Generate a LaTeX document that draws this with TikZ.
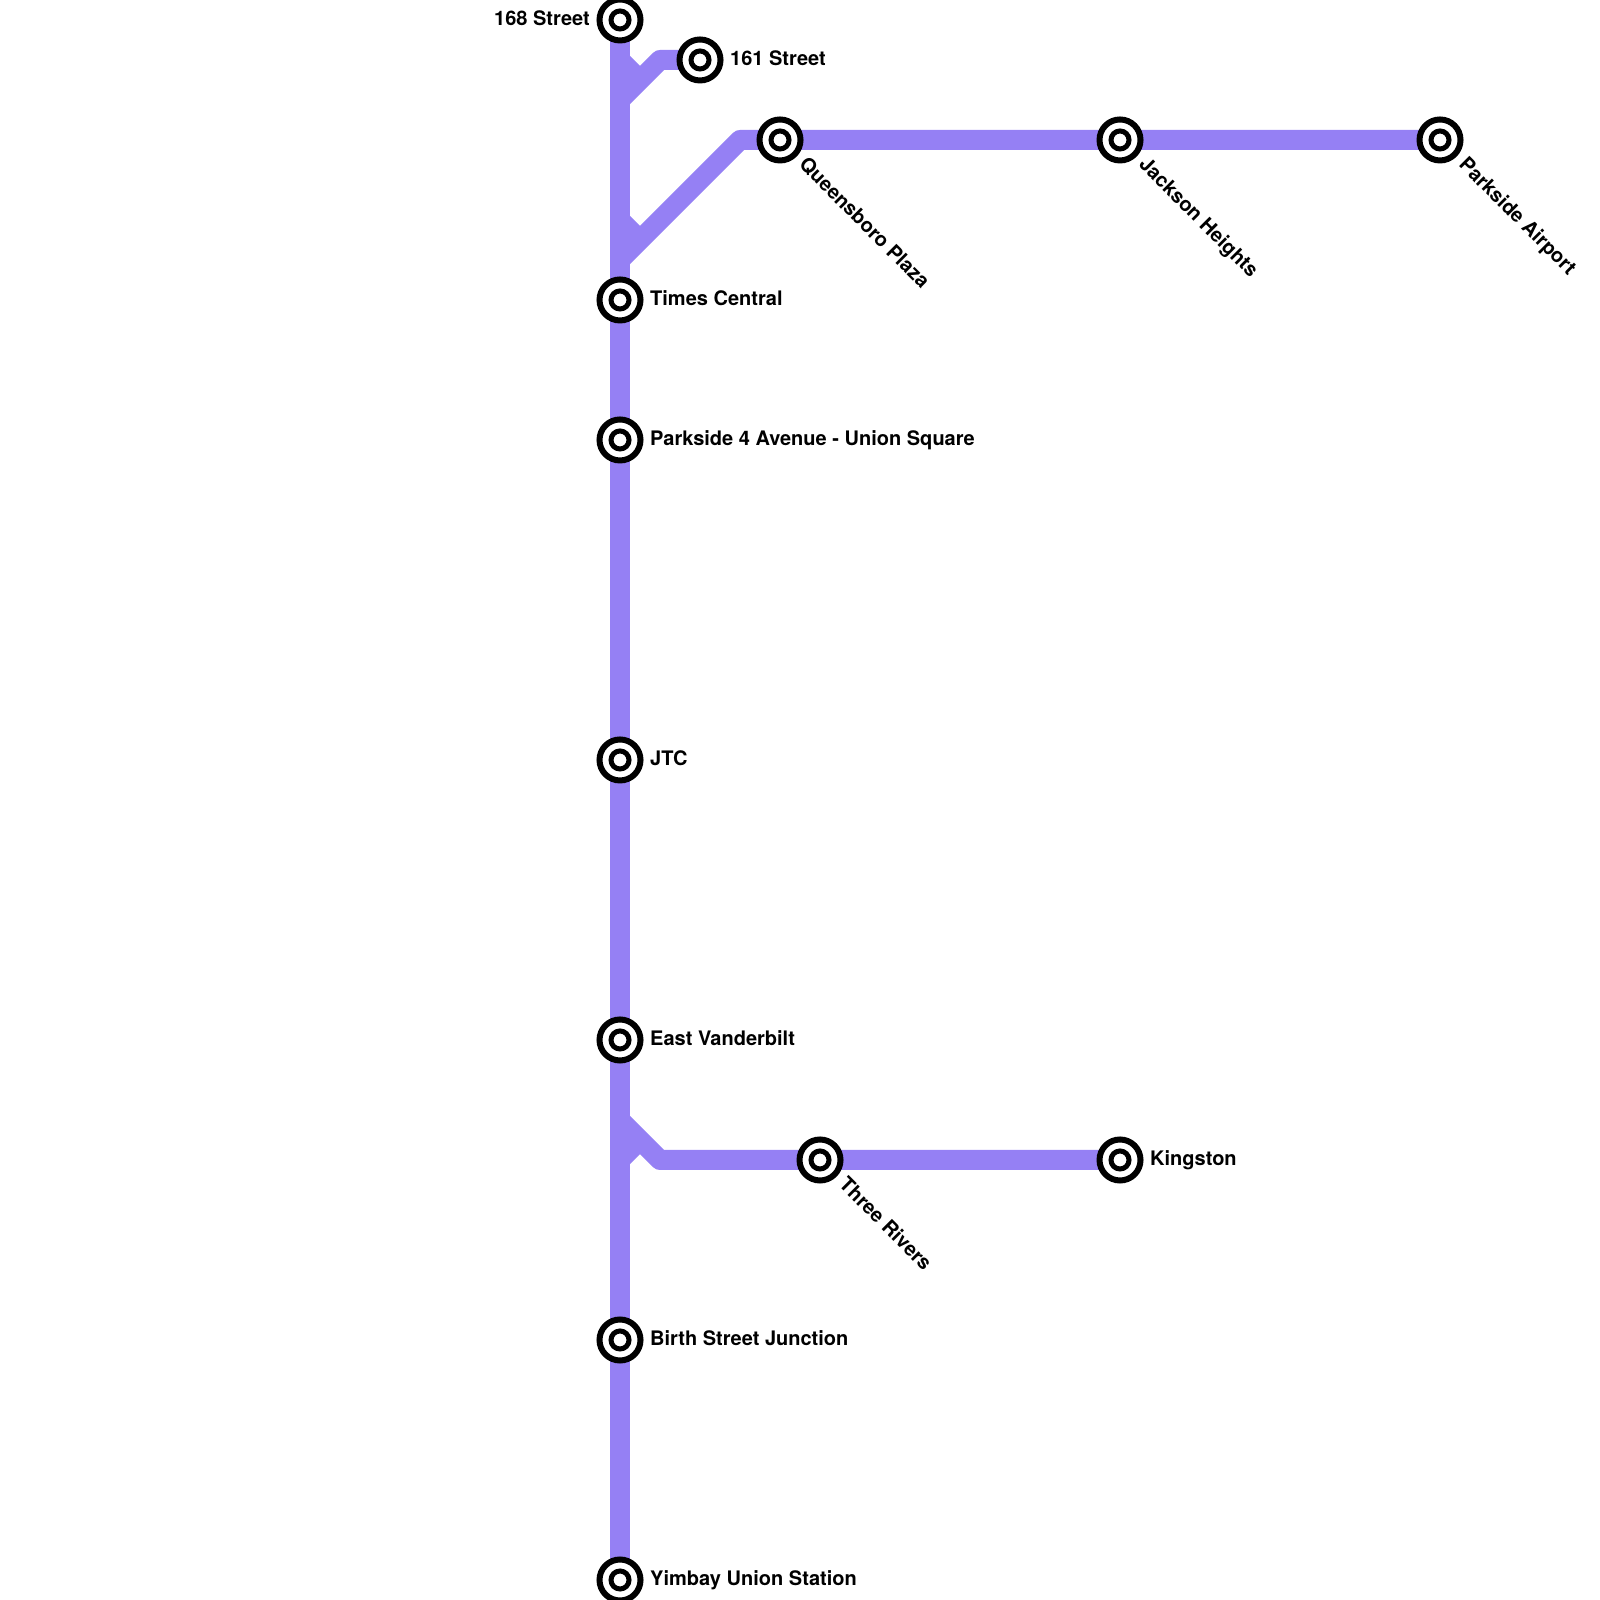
\documentclass[tikz,border=0pt]{standalone}
\usepackage{fontspec}
\setmainfont{TeX Gyre Heros}
\usetikzlibrary{backgrounds}
\definecolor{linepurple}{HTML}{9580F4}
\tikzset{
  stn/.style={circle, draw=black, fill=white, line width=0.6mm, minimum size=4.1mm, inner sep=0pt},
  stnin/.style={circle, draw=black, fill=white, line width=0.5mm, minimum size=1.8mm, inner sep=0pt},
  lbl/.style={font=\fontsize{5.69}{7}\bfseries\selectfont, inner sep=0pt, anchor=base west},
  lblleft/.style={lbl, anchor=base east},
  lbldiag/.style={lbl, rotate=-45},
  track/.style={draw=linepurple, line width=2mm, line join=round}
}
\begin{document}
\begin{tikzpicture}
  \useasboundingbox (0,0) rectangle (16,16);
  % stations
  \foreach \n/\x/\y in {s168/6.2/15.8, s161/7.0/15.4, queens/7.8/14.6, jackson/11.2/14.6, airport/14.4/14.6,
      times/6.2/13.0, fourav/6.2/11.6, jtc/6.2/8.4, east/6.2/5.6, rivers/8.2/4.4, kingston/11.2/4.4,
      birth/6.2/2.6, yimbay/6.2/0.2} {
    \node[stn] (\n) at (\x,\y) {};
    \node[stnin] (\n-in) at (\x,\y) {};
  }
  % bends
  \coordinate (b161) at (6.6,15.4);
  \coordinate (t161) at (6.2,15.0);
  \coordinate (a161) at (6.2,15.4);
  \coordinate (c161) at (6.4,15.2);
  \coordinate (bqueens) at (7.4,14.6);
  \coordinate (tqueens) at (6.2,13.4);
  \coordinate (aqueens) at (6.2,13.8);
  \coordinate (cqueens) at (6.4,13.6);
  \coordinate (briv) at (6.6,4.4);
  \coordinate (triv) at (6.2,4.8);
  \coordinate (astub) at (6.4,4.6);
  \coordinate (bstub) at (6.2,4.4);
  \begin{scope}[on background layer]
    \draw[track] (s168.center) -- (yimbay.center);
    \draw[track] (s161.center) -- (b161) -- (t161);
    \draw[track] (a161) -- (c161);
    \draw[track] (airport.center) -- (bqueens) -- (tqueens);
    \draw[track] (aqueens) -- (cqueens);
    \draw[track] (kingston.center) -- (briv) -- (triv);
    \draw[track] (astub) -- (bstub);
  \end{scope}
  % labels
  \node[lblleft] (l168) at (5.905,15.74) {168 Street};
  \node[lbl] (l161) at (7.295,15.34) {161 Street};
  \node[lbldiag] (lqueens) at (7.975,14.345) {Queensboro Plaza};
  \node[lbldiag] (ljackson) at (11.375,14.345) {Jackson Heights};
  \node[lbldiag] (lairport) at (14.575,14.345) {Parkside Airport};
  \node[lbl] (ltimes) at (6.495,12.94) {Times Central};
  \node[lbl] (lfourav) at (6.495,11.54) {Parkside 4 Avenue - Union Square};
  \node[lbl] (ljtc) at (6.495,8.34) {JTC};
  \node[lbl] (least) at (6.495,5.54) {East Vanderbilt};
  \node[lbldiag] (lrivers) at (8.375,4.145) {Three Rivers};
  \node[lbl] (lkingston) at (11.495,4.34) {Kingston};
  \node[lbl] (lbirth) at (6.495,2.54) {Birth Street Junction};
  \node[lbl] (lyimbay) at (6.495,0.14) {Yimbay Union Station};
\end{tikzpicture}
\end{document}
